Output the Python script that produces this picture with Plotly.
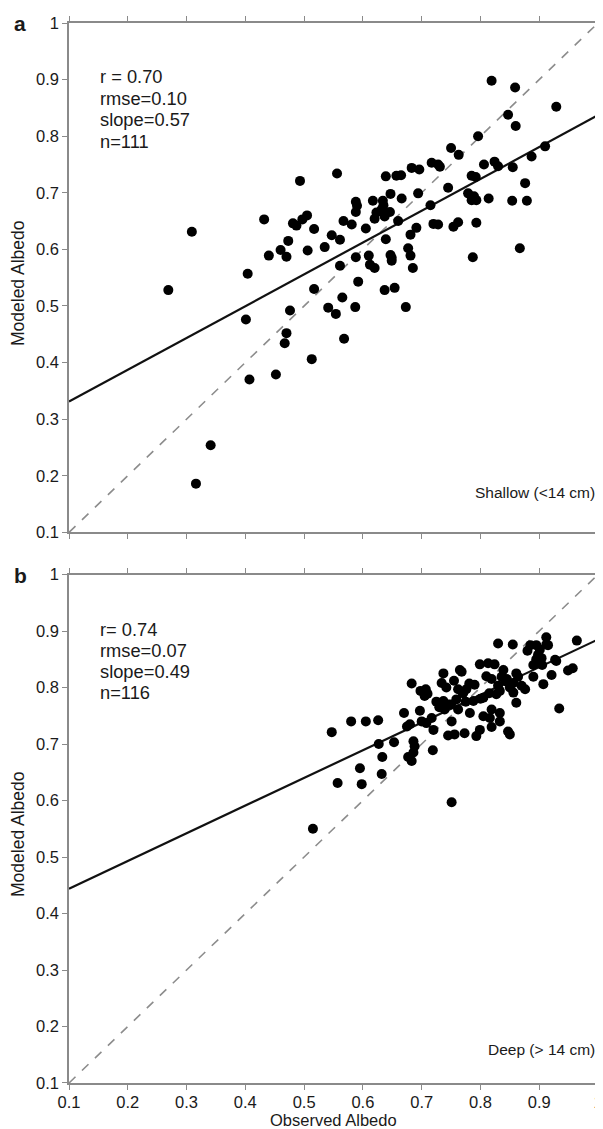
import plotly.graph_objects as go

# ---------------- data ----------------
ticks = [0.1, 0.2, 0.3, 0.4, 0.5, 0.6, 0.7, 0.8, 0.9, 1.0]
tick_labels = ["0.1", "0.2", "0.3", "0.4", "0.5", "0.6", "0.7", "0.8", "0.9", "1"]

# Panel a: shallow snow (<14 cm)
obs_a = [0.269, 0.309, 0.341, 0.316, 0.404, 0.401, 0.407, 0.452, 0.432, 0.440,
         0.460, 0.470, 0.473, 0.470, 0.467, 0.476, 0.493, 0.497, 0.505, 0.487,
         0.517, 0.506, 0.535, 0.547, 0.561, 0.517, 0.513, 0.541, 0.554, 0.556,
         0.567, 0.581, 0.561, 0.565, 0.568, 0.588, 0.588, 0.605, 0.588, 0.592,
         0.587, 0.617, 0.634, 0.635, 0.623, 0.646, 0.637, 0.620, 0.639, 0.657,
         0.647, 0.639, 0.610, 0.647, 0.649, 0.612, 0.620, 0.637, 0.654, 0.660,
         0.819, 0.859, 0.929, 0.847, 0.860, 0.796, 0.750, 0.763, 0.910, 0.887,
         0.806, 0.824, 0.830, 0.855, 0.717, 0.728, 0.683, 0.696, 0.665, 0.785,
         0.792, 0.745, 0.876, 0.779, 0.785, 0.793, 0.814, 0.854, 0.879, 0.694,
         0.666, 0.715, 0.720, 0.728, 0.754, 0.762, 0.793, 0.691, 0.681, 0.677,
         0.681, 0.685, 0.673, 0.787, 0.867, 0.590, 0.481, 0.632, 0.789, 0.731,
         0.649]
mod_a = [0.528, 0.631, 0.254, 0.186, 0.557, 0.476, 0.370, 0.379, 0.653, 0.589,
         0.599, 0.587, 0.615, 0.452, 0.434, 0.492, 0.721, 0.653, 0.660, 0.642,
         0.636, 0.598, 0.604, 0.625, 0.617, 0.530, 0.406, 0.497, 0.486, 0.734,
         0.650, 0.644, 0.571, 0.515, 0.442, 0.684, 0.666, 0.637, 0.586, 0.543,
         0.498, 0.686, 0.686, 0.678, 0.665, 0.666, 0.658, 0.654, 0.729, 0.730,
         0.698, 0.618, 0.589, 0.590, 0.585, 0.573, 0.567, 0.528, 0.532, 0.650,
         0.898, 0.886, 0.852, 0.838, 0.818, 0.800, 0.779, 0.767, 0.782, 0.764,
         0.750, 0.755, 0.747, 0.745, 0.753, 0.750, 0.744, 0.741, 0.731, 0.730,
         0.728, 0.709, 0.717, 0.699, 0.687, 0.687, 0.690, 0.686, 0.686, 0.699,
         0.690, 0.678, 0.645, 0.644, 0.640, 0.648, 0.647, 0.638, 0.626, 0.602,
         0.589, 0.567, 0.498, 0.586, 0.602, 0.677, 0.646, 0.671, 0.694, 0.746,
         0.580]
fit_x = [0.1, 1.0]
fit_a = [0.331, 0.837]
stats_a = ["r = 0.70", "rmse=0.10", "slope=0.57", "n=111"]

# Panel b: deep snow (> 14 cm)
obs_b = [0.547, 0.580, 0.605, 0.626, 0.557, 0.595, 0.598, 0.632, 0.633, 0.627,
         0.653, 0.675, 0.670, 0.683, 0.698, 0.707, 0.710, 0.697, 0.700, 0.708,
         0.717, 0.720, 0.686, 0.688, 0.686, 0.677, 0.683, 0.719, 0.751, 0.830,
         0.855, 0.912, 0.895, 0.901, 0.912, 0.964, 0.898, 0.904, 0.927, 0.929,
         0.890, 0.901, 0.949, 0.957, 0.921, 0.907, 0.890, 0.799, 0.813, 0.824,
         0.765, 0.768, 0.839, 0.836, 0.842, 0.861, 0.864, 0.819, 0.830, 0.833,
         0.856, 0.870, 0.876, 0.856, 0.861, 0.781, 0.776, 0.762, 0.771, 0.737,
         0.734, 0.805, 0.788, 0.827, 0.737, 0.745, 0.759, 0.762, 0.739, 0.782,
         0.751, 0.819, 0.805, 0.816, 0.833, 0.833, 0.819, 0.799, 0.793, 0.745,
         0.756, 0.773, 0.847, 0.850, 0.934, 0.515, 0.725, 0.730, 0.742, 0.750,
         0.755, 0.770, 0.775, 0.790, 0.800, 0.810, 0.815, 0.845, 0.850, 0.880,
         0.885, 0.895, 0.905, 0.915, 0.705, 0.680]
mod_b = [0.721, 0.740, 0.740, 0.742, 0.631, 0.657, 0.629, 0.647, 0.677, 0.700,
         0.703, 0.731, 0.755, 0.807, 0.794, 0.797, 0.789, 0.759, 0.740, 0.737,
         0.746, 0.725, 0.705, 0.696, 0.685, 0.677, 0.670, 0.689, 0.597, 0.878,
         0.876, 0.889, 0.875, 0.867, 0.876, 0.883, 0.858, 0.852, 0.849, 0.847,
         0.840, 0.843, 0.830, 0.834, 0.822, 0.806, 0.819, 0.841, 0.843, 0.841,
         0.831, 0.828, 0.831, 0.819, 0.811, 0.825, 0.819, 0.815, 0.803, 0.794,
         0.808, 0.803, 0.797, 0.791, 0.773, 0.807, 0.797, 0.797, 0.791, 0.825,
         0.808, 0.782, 0.776, 0.788, 0.776, 0.770, 0.779, 0.761, 0.761, 0.755,
         0.740, 0.761, 0.749, 0.746, 0.755, 0.740, 0.730, 0.725, 0.714, 0.715,
         0.717, 0.719, 0.722, 0.717, 0.763, 0.550, 0.775, 0.765, 0.800, 0.770,
         0.812, 0.790, 0.775, 0.805, 0.780, 0.820, 0.790, 0.815, 0.800, 0.865,
         0.875, 0.850, 0.840, 0.875, 0.785, 0.735]
fit_b = [0.444, 0.885]
stats_b = ["r= 0.74", "rmse=0.07", "slope=0.49", "n=116"]

FONT = "Liberation Sans, Arial, Helvetica, sans-serif"
AX = "#8a8a8a"
TXT = "#1a1a1a"

fig = go.Figure()

def add_panel(obs, mod, fit, xa, ya):
    fig.add_trace(go.Scatter(x=fit_x, y=fit_x, mode="lines", xaxis=xa, yaxis=ya,
                             line=dict(color="#8c8c8c", width=1.6, dash="dash"),
                             showlegend=False, hoverinfo="skip"))
    fig.add_trace(go.Scatter(x=fit_x, y=fit, mode="lines", xaxis=xa, yaxis=ya,
                             line=dict(color="#111111", width=2.2),
                             showlegend=False, hoverinfo="skip"))
    fig.add_trace(go.Scatter(x=obs, y=mod, mode="markers", xaxis=xa, yaxis=ya,
                             marker=dict(color="#000000", size=10, line=dict(width=0)),
                             showlegend=False))

add_panel(obs_a, mod_a, fit_a, "x", "y")
add_panel(obs_b, mod_b, fit_b, "x2", "y2")

common = dict(range=[0.1, 1.0], tickvals=ticks, ticktext=tick_labels,
              showline=True, linecolor=AX, linewidth=1.5, mirror="ticks",
              ticks="outside", ticklen=5, tickwidth=1.2, tickcolor=AX,
              showgrid=False, zeroline=False,
              tickfont=dict(family=FONT, size=16.5, color=TXT))

# the page body adds an 8 px margin, so the figure is sized 8 px smaller
fig.update_layout(
    width=595, height=1121,
    margin=dict(l=61, r=5, t=15, b=46, autoexpand=False),
    paper_bgcolor="white", plot_bgcolor="white",
    font=dict(family=FONT, color=TXT),
    xaxis=dict(anchor="y", domain=[0, 1], showticklabels=False,
               **{k: v for k, v in common.items() if k != "tickfont"}),
    yaxis=dict(anchor="x", domain=[0.5195, 1.0], **common),
    xaxis2=dict(anchor="y2", domain=[0, 1], ticklabelstandoff=-2, **common),
    yaxis2=dict(anchor="x2", domain=[0.0, 0.4797], **common),
)

ann = []
ys_a = [0.905, 0.867, 0.829, 0.791]
for t, yy in zip(stats_a, ys_a):
    ann.append(dict(x=0.149, y=yy, xref="x", yref="y", text=t, showarrow=False,
                    xanchor="left", yanchor="middle", font=dict(family=FONT, size=18.3, color=TXT)))
ys_b = [0.903, 0.865, 0.828, 0.791]
for t, yy in zip(stats_b, ys_b):
    ann.append(dict(x=0.149, y=yy, xref="x2", yref="y2", text=t, showarrow=False,
                    xanchor="left", yanchor="middle", font=dict(family=FONT, size=18.3, color=TXT)))
ann.append(dict(x=0.998, y=0.171, xref="x", yref="y", text="Shallow (<14 cm)", showarrow=False,
                xanchor="right", yanchor="middle", font=dict(family=FONT, size=15.5, color=TXT)))
ann.append(dict(x=0.998, y=0.159, xref="x2", yref="y2", text="Deep (> 14 cm)", showarrow=False,
                xanchor="right", yanchor="middle", font=dict(family=FONT, size=15.5, color=TXT)))
ann.append(dict(x=-0.0926, y=0.9995, xref="paper", yref="paper", text="<b>a</b>", showarrow=False,
                xanchor="center", yanchor="middle", font=dict(family=FONT, size=21, color=TXT)))
ann.append(dict(x=-0.0926, y=0.4792, xref="paper", yref="paper", text="<b>b</b>", showarrow=False,
                xanchor="center", yanchor="middle", font=dict(family=FONT, size=21, color=TXT)))
ann.append(dict(x=-0.0964, y=0.7547, xref="paper", yref="paper", text="Modeled Albedo", showarrow=False,
                textangle=-90, xanchor="center", yanchor="middle", font=dict(family=FONT, size=17.5, color=TXT)))
ann.append(dict(x=-0.0964, y=0.2349, xref="paper", yref="paper", text="Modeled Albedo", showarrow=False,
                textangle=-90, xanchor="center", yanchor="middle", font=dict(family=FONT, size=17.5, color=TXT)))
ann.append(dict(x=0.4991, y=-0.0349, xref="paper", yref="paper", text="Observed Albedo", showarrow=False,
                xanchor="center", yanchor="middle", font=dict(family=FONT, size=16.5, color=TXT)))
fig.update_layout(annotations=ann)

fig.write_html("out.html")
